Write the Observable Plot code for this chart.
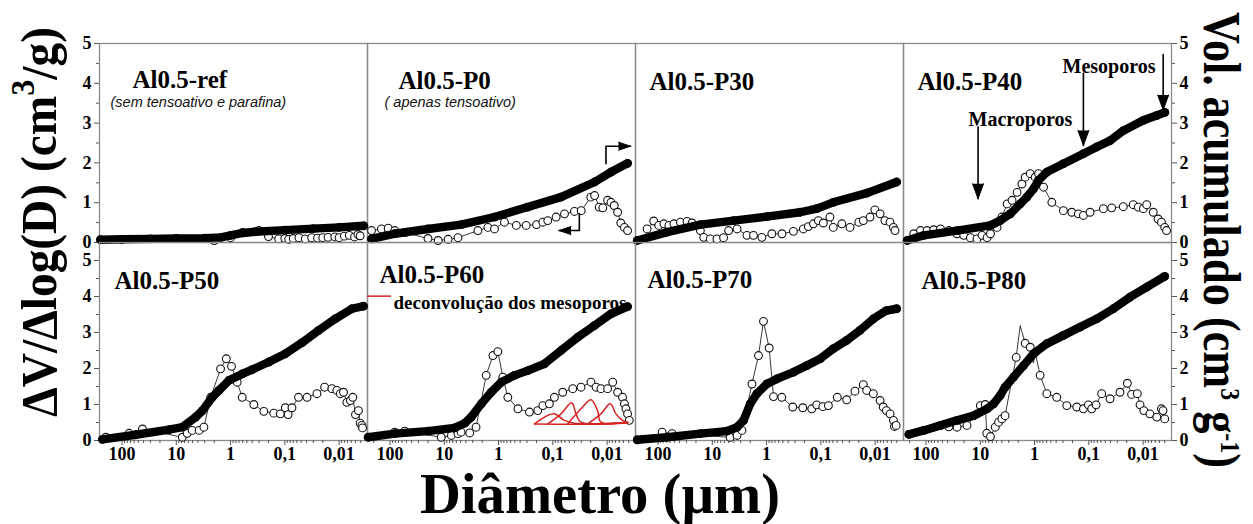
<!DOCTYPE html>
<html lang="pt">
<head>
<meta charset="utf-8">
<title>Distribuição de tamanho de poros</title>
<script src="https://cdn.jsdelivr.net/npm/d3@7"></script>
<script src="https://cdn.jsdelivr.net/npm/@observablehq/plot@0.6"></script>
<style>
  html, body { margin: 0; padding: 0; background: #fff; }
  #fig { position: relative; width: 1253px; height: 524px; overflow: hidden; background: #fff; }
  #fig > svg { position: absolute; left: 0; overflow: visible; }
</style>
</head>
<body>
<div id="fig"></div>
<script>
// ---- samples, labels and ticks ----
const samples = ["Al0.5-ref", "Al0.5-P0", "Al0.5-P30", "Al0.5-P40", "Al0.5-P50", "Al0.5-P60", "Al0.5-P70", "Al0.5-P80"];
const subtitleSamples = ["Al0.5-ref", "Al0.5-P0"];
const subtitleTexts = ["(sem tensoativo e parafina)", "( apenas tensoativo)"];
const diameterTicks = [100, 10, 1, 0.1, 0.01];
const diameterTickLabels = ["100", "10", "1", "0,1", "0,01"];
const volumeTicks = [0, 1, 2, 3, 4, 5];

// ---- ΔV/Δlog(D): [diâmetro (µm), valor, marcador (0 = só vértice da linha)] ----
const distRef = [[2, 0.05], [1, 0.12], [0.6, 0.25], [0.3, 0.3], [0.2, 0.15], [0.13, 0.09], [0.1, 0.1], [0.085, 0.08], [0.07, 0.1], [0.055, 0.12], [0.042, 0.09], [0.032, 0.12], [0.025, 0.11], [0.02, 0.12], [0.016, 0.13], [0.012, 0.14], [0.01, 0.12], [0.008, 0.16], [0.0065, 0.18], [0.0052, 0.14], [0.0045, 0.2], [0.0041, 0.17]];
const distP0 = [[219, 0.30], [144, 0.34], [108, 0.36], [82, 0.3], [53, 0.25], [20, 0.1], [13, 0.05], [8.5, 0.08], [5.6, 0.12], [2.4, 0.3], [1.57, 0.38], [1.19, 0.34], [0.78, 0.51], [0.47, 0.43], [0.31, 0.43], [0.2, 0.45], [0.153, 0.51], [0.124, 0.55], [0.087, 0.64], [0.061, 0.72], [0.04, 0.78], [0.03, 0.8], [0.02, 1.14], [0.017, 1.18], [0.014, 0.89], [0.012, 0.87], [0.0098, 1.06], [0.0085, 1.01], [0.0074, 0.93], [0.0064, 0.76], [0.0056, 0.49], [0.0048, 0.38], [0.0042, 0.3]];
const distP30 = [[159, 0.34], [120, 0.54], [97, 0.43], [78, 0.47], [63, 0.43], [51, 0.47], [38.7, 0.51], [29.2, 0.53], [23.6, 0.49], [16.6, 0.30], [14.4, 0.13], [10.9, 0.09], [8.2, 0.09], [6.2, 0.12], [5.0, 0.30], [3.5, 0.34], [2.3, 0.18], [1.74, 0.18], [1.22, 0.13], [0.80, 0.22], [0.52, 0.22], [0.32, 0.28], [0.21, 0.34], [0.17, 0.40], [0.137, 0.47], [0.111, 0.55], [0.09, 0.49], [0.068, 0.64], [0.059, 0.38], [0.041, 0.47], [0.029, 0.38], [0.020, 0.51], [0.0165, 0.55], [0.0124, 0.64], [0.0101, 0.82], [0.0081, 0.72], [0.0066, 0.55], [0.0053, 0.51], [0.0046, 0.38], [0.0043, 0.30]];
const distP40 = [[168, 0.22], [126, 0.30], [95.5, 0.30], [72, 0.32], [54, 0.34], [38, 0.30], [26.8, 0.22], [20.2, 0.18], [15.2, 0.12], [11.5, 0.09], [9.3, 0.18], [7.5, 0.12], [6.5, 0.22], [4.9, 0.38], [4.0, 0.64], [3.2, 0.97], [2.6, 1.06], [2.1, 1.26], [1.71, 1.47], [1.49, 1.64], [1.20, 1.73], [0.975, 1.64], [0.845, 1.73], [0.684, 1.39], [0.481, 1.01], [0.294, 0.80], [0.206, 0.76], [0.156, 0.72], [0.126, 0.68], [0.095, 0.76], [0.054, 0.85], [0.038, 0.87], [0.0232, 0.90], [0.0152, 0.95], [0.0123, 0.89], [0.0099, 0.85], [0.0086, 0.95], [0.0065, 0.76], [0.0053, 0.59], [0.0046, 0.51], [0.0040, 0.38], [0.0037, 0.30]];
const distP50 = [[199, 0.09], [74, 0.20], [42, 0.32], [7.74, 0.09], [6.3, 0.20], [5.1, 0.28], [3.8, 0.28], [3.1, 0.37], [2.33, 1.20], [1.53, 1.99], [1.20, 2.27], [0.96, 2.06], [0.755, 1.62], [0.61, 1.20], [0.373, 1.0], [0.244, 0.81], [0.16, 0.76], [0.121, 0.74], [0.098, 0.91], [0.087, 0.72], [0.074, 0.91], [0.056, 1.20], [0.039, 1.20], [0.0256, 1.30], [0.0185, 1.48], [0.0136, 1.44], [0.011, 1.39], [0.0095, 1.30], [0.0083, 1.34], [0.0072, 1.06], [0.0062, 1.11], [0.0056, 1.20], [0.005, 0.72], [0.0044, 0.83], [0.0041, 0.48], [0.0038, 0.42], [0.0037, 0.35]];
const distP60 = [[82, 0.23], [53.6, 0.26], [11.4, 0.09], [7.4, 0.14], [5.6, 0.19], [4.9, 0.23], [3.4, 0.21], [2.6, 0.37], [1.69, 1.81], [1.27, 2.36], [1.03, 2.47], [0.834, 1.76], [0.675, 1.20], [0.44, 0.88], [0.27, 0.79], [0.19, 0.83], [0.153, 0.97], [0.116, 1.02], [0.0935, 1.20], [0.0658, 1.34], [0.043, 1.44], [0.0303, 1.48], [0.0198, 1.62], [0.016, 1.48], [0.013, 1.44], [0.0098, 1.44], [0.0079, 1.62], [0.0064, 1.34], [0.0052, 1.20], [0.0048, 1.02], [0.0045, 0.88], [0.0042, 0.74], [0.0039, 0.56]];
const distP70 = [[84, 0.23], [55, 0.19], [4.7, 0.09], [3.5, 0.14], [2.84, 0.28], [1.86, 1.57], [1.41, 2.36], [1.14, 3.31], [0.895, 2.57], [0.745, 1.22], [0.524, 1.20], [0.329, 0.93], [0.215, 0.91], [0.147, 0.88], [0.119, 0.99], [0.092, 0.94], [0.0726, 0.97], [0.0497, 1.20], [0.0334, 1.13], [0.0235, 1.37], [0.0165, 1.55], [0.0143, 1.39], [0.0108, 1.30], [0.0081, 1.11], [0.0071, 0.93], [0.0062, 0.83], [0.0053, 0.74], [0.0046, 0.56], [0.0044, 0.39], [0.0041, 0.42]];
const distP80 = [[54, 0.42], [38, 0.38], [26.8, 0.37], [17.6, 0.42], [11.5, 0.74], [10, 0.97], [8.1, 1.0], [7.6, 0.2], [6.5, 0.11], [5.3, 0.37], [4.6, 0.51], [4.0, 0.6], [3.5, 0.69], [2.18, 2.31], [1.84, 3.19, 0], [1.49, 2.7], [1.2, 2.59], [1.05, 2.15, 0], [0.975, 2.45], [0.79, 1.81], [0.594, 1.3], [0.39, 1.2], [0.255, 0.97], [0.167, 0.93], [0.126, 0.88], [0.102, 0.99], [0.0885, 0.88], [0.0736, 0.99], [0.058, 1.3], [0.0407, 1.16], [0.0267, 1.34], [0.0195, 1.59], [0.0163, 1.28], [0.0128, 1.3], [0.0114, 0.99], [0.0097, 0.83], [0.0075, 0.74], [0.0056, 0.65], [0.0046, 0.88], [0.0043, 0.83], [0.004, 0.6]];

// ---- volume acumulado: [diâmetro (µm), cm³/g] ----
const cumRef = [[250, 0.07], [100, 0.08], [30, 0.09], [10, 0.1], [3, 0.11], [1.5, 0.13], [1.0, 0.18], [0.6, 0.24], [0.35, 0.27], [0.1, 0.31], [0.03, 0.35], [0.01, 0.38], [0.0035, 0.42]];
const cumP0 = [[219, 0.09], [82, 0.22], [20, 0.34], [4.9, 0.45], [1.19, 0.64], [0.29, 0.89], [0.071, 1.14], [0.017, 1.52], [0.0085, 1.77], [0.0042, 1.99]];
const cumP30 = [[242, 0.05], [68, 0.26], [16.6, 0.45], [4.05, 0.55], [0.99, 0.65], [0.24, 0.76], [0.119, 0.85], [0.059, 1.01], [0.0143, 1.24], [0.004, 1.52]];
const cumP40 = [[223, 0.05], [110, 0.18], [26.8, 0.30], [6.5, 0.43], [4.3, 0.55], [2.8, 0.72], [1.84, 0.97], [1.39, 1.14], [1.045, 1.35], [0.845, 1.56], [0.594, 1.77], [0.294, 1.98], [0.126, 2.23], [0.0716, 2.40], [0.0407, 2.56], [0.0232, 2.81], [0.0099, 3.07], [0.00565, 3.19], [0.00397, 3.27]];
const cumP50 = [[229, 0.03], [55.8, 0.16], [13.6, 0.30], [7.74, 0.37], [4.4, 0.65], [3.3, 0.83], [2.18, 1.20], [1.64, 1.39], [1.07, 1.67], [0.61, 1.85], [0.40, 1.97], [0.198, 2.18], [0.098, 2.41], [0.048, 2.72], [0.0238, 3.06], [0.0118, 3.38], [0.0058, 3.66], [0.00355, 3.73]];
const cumP60 = [[253, 0.09], [82, 0.19], [20, 0.26], [6.5, 0.35], [4.2, 0.48], [3.2, 0.65], [2.08, 1.02], [1.37, 1.34], [0.895, 1.62], [0.51, 1.81], [0.29, 1.94], [0.143, 2.13], [0.0706, 2.5], [0.0348, 2.87], [0.0172, 3.19], [0.0085, 3.52], [0.0042, 3.72]];
const cumP70 = [[242, 0.02], [68, 0.09], [16.6, 0.19], [5.4, 0.26], [3.5, 0.37], [2.65, 0.56], [2.0, 1.02], [1.51, 1.30], [0.99, 1.57], [0.647, 1.71], [0.319, 1.90], [0.182, 2.08], [0.103, 2.27], [0.0588, 2.55], [0.0334, 2.78], [0.019, 3.06], [0.0108, 3.38], [0.0062, 3.61], [0.004, 3.66]];
const cumP80 = [[207, 0.17], [110, 0.28], [54, 0.42], [26.8, 0.56], [13.2, 0.69], [7.5, 0.88], [5.7, 1.02], [4.3, 1.25], [3.5, 1.48], [2.44, 1.76], [1.6, 2.08], [1.045, 2.41], [0.594, 2.69], [0.294, 2.92], [0.145, 3.15], [0.0716, 3.38], [0.0354, 3.66], [0.0175, 3.98], [0.0086, 4.26], [0.004, 4.56]];

// ---- deconvolução dos mesoporos (Al0.5-P60) ----
const deconvP60 = [
  [[0.218, 0.46], [0.013, 0.46], [0.0042, 0.5]],
  [[0.218, 0.46], [0.0964, 0.74], [0.0614, 0.56], [0.0402, 0.48], [0.0042, 0.5]],
  [[0.124, 0.46], [0.0706, 0.74], [0.045, 1.05], [0.0374, 0.74], [0.0303, 0.51], [0.0042, 0.5]],
  [[0.0532, 0.46], [0.0303, 0.88], [0.0198, 1.13], [0.015, 0.83], [0.013, 0.51], [0.0042, 0.5]],
  [[0.0229, 0.46], [0.013, 0.74], [0.00875, 1.02], [0.0069, 0.74], [0.0052, 0.56], [0.0042, 0.5]]
];

// ---- layout ----
const serif = '"Liberation Serif", "Times New Roman", Times, serif';
const sans = '"Liberation Sans", Arial, Helvetica, sans-serif';
const titleOffsets = {"Al0.5-ref": [33, 27], "Al0.5-P0": [31, 28], "Al0.5-P30": [14, 29], "Al0.5-P40": [14, 29],
  "Al0.5-P50": [15, 29], "Al0.5-P60": [12, 23], "Al0.5-P70": [12, 28], "Al0.5-P80": [18, 29]};
const subtitleOffsets = {"Al0.5-ref": [11, 53], "Al0.5-P0": [17, 53]};

const series = [
  [samples[0], distRef, cumRef], [samples[1], distP0, cumP0], [samples[2], distP30, cumP30], [samples[3], distP40, cumP40],
  [samples[4], distP50, cumP50], [samples[5], distP60, cumP60], [samples[6], distP70, cumP70], [samples[7], distP80, cumP80]
];
const distRows = series.flatMap(([sample, dist]) => dist.map(([d, v, m = 1]) => ({sample, d, v, m})));
const cumRows = series.flatMap(([sample, , cum]) => cum.map(([d, v]) => ({sample, d, v})));
const deconvRows = deconvP60.flatMap((peak, k) => peak.map(([d, v]) => ({sample: "Al0.5-P60", k, d, v})));

// pointer arrows, in data space: polyline vertices and the heading of the tip
const arrows = [
  {sample: "Al0.5-P0", path: [[0.0105, 1.98], [0.0105, 2.42], [0.0037, 2.42]], heading: 90, big: false},
  {sample: "Al0.5-P0", path: [[0.0325, 0.72], [0.0325, 0.30], [0.077, 0.30]], heading: -90, big: false},
  {sample: "Al0.5-P40", path: [[11, 2.9], [11, 1.1]], heading: 180, big: true},
  {sample: "Al0.5-P40", path: [[0.126, 4.25], [0.126, 2.44]], heading: 180, big: true},
  {sample: "Al0.5-P40", path: [[0.00427, 4.72], [0.00427, 3.33]], heading: 180, big: true}
];
const arrowRows = arrows.flatMap((a, i) => a.path.map(([d, v]) => ({sample: a.sample, i, d, v})));
const arrowTips = arrows.map(a => ({sample: a.sample, d: a.path.at(-1)[0], v: a.path.at(-1)[1], heading: a.heading, big: a.big}));
const poreLabels = [
  {sample: "Al0.5-P40", label: "Mesoporos", dx: 159, dy: 15},
  {sample: "Al0.5-P40", label: "Macroporos", dx: 65, dy: 68}
];

const minorY = [0.5, 1.5, 2.5, 3.5, 4.5];
const minorX = [];
for (let e = -3; e <= 2; e++) for (let m = 2; m <= 9; m++) {
  const t = m * 10 ** e;
  if (t > 0.0031 && t < 260) minorX.push(t);
}

function row(names, yMax, {top, height, marginTop, marginBottom, xAxis}) {
  const inRow = r => names.includes(r.sample);
  const axisStroke = "#555";
  const marks = [
    Plot.frame({stroke: "#8a8a8a", strokeWidth: 1.3}),
    ...["left", "right"].flatMap(anchor => [
      Plot.axisY(minorY, {anchor, tickSize: 3, stroke: axisStroke, fill: "none", label: null}),
      Plot.axisY(volumeTicks, {anchor, tickSize: 5, stroke: axisStroke, fill: "none", label: null}),
      Plot.axisY(volumeTicks, {anchor, tickSize: 0, tickPadding: 8, fill: "#000", label: null,
        fontSize: 18, fontWeight: "bold", fontFamily: serif})
    ])
  ];
  if (xAxis) marks.push(
    Plot.axisX(minorX, {anchor: "bottom", tickSize: 3, stroke: axisStroke, fill: "none", label: null}),
    Plot.axisX(diameterTicks, {anchor: "bottom", tickSize: 5, stroke: axisStroke, fill: "none", label: null}),
    Plot.axisX(diameterTicks, {anchor: "bottom", tickSize: 0, tickPadding: 7, fill: "#000", label: null,
      tickFormat: d => diameterTickLabels[diameterTicks.indexOf(d)], fontSize: 18, fontWeight: "bold", fontFamily: serif})
  );
  marks.push(
    // ΔV/Δlog(D): thin line with open circles
    Plot.line(distRows.filter(inRow), {x: "d", y: "v", fx: "sample", stroke: "#222", strokeWidth: 0.9}),
    Plot.dot(distRows.filter(r => inRow(r) && r.m), {x: "d", y: "v", fx: "sample", r: 3.9, fill: "#fff", stroke: "#111", strokeWidth: 1.1}),
    // deconvolution peaks
    Plot.line(deconvRows.filter(inRow), {x: "d", y: "v", z: "k", fx: "sample", curve: "catmull-rom",
      stroke: "#d42424", strokeWidth: 1.5}),
    // cumulative volume: dense filled circles
    Plot.line(cumRows.filter(inRow), {x: "d", y: "v", fx: "sample", stroke: "#000", strokeWidth: 8.4, strokeLinecap: "round", strokeLinejoin: "round"}),
    Plot.dot(cumRows.filter(inRow), {x: "d", y: "v", fx: "sample", r: 4.4, fill: "#000"}),
    // arrows
    Plot.line(arrowRows.filter(inRow), {x: "d", y: "v", z: "i", fx: "sample", stroke: "#000", strokeWidth: 1.6}),
    Plot.vector(arrowTips.filter(r => inRow(r) && !r.big), {x: "d", y: "v", fx: "sample", rotate: "heading", anchor: "end",
      shape: "spike", length: 12, r: 4, fill: "#000", stroke: "#000", strokeWidth: 1}),
    Plot.vector(arrowTips.filter(r => inRow(r) && r.big), {x: "d", y: "v", fx: "sample", rotate: "heading", anchor: "end",
      shape: "spike", length: 15, r: 5.5, fill: "#000", stroke: "#000", strokeWidth: 1}),
    // panel titles
    ...names.map(s => Plot.text([s], {fx: d => d, text: d => d, frameAnchor: "top-left", textAnchor: "start",
      dx: titleOffsets[s][0], dy: titleOffsets[s][1], fontSize: 25, fontWeight: "bold", fontFamily: serif, fill: "#000"})),
    ...subtitleSamples.filter(s => names.includes(s)).map(s => Plot.text([s], {fx: d => d,
      text: d => subtitleTexts[subtitleSamples.indexOf(d)], frameAnchor: "top-left", textAnchor: "start",
      dx: subtitleOffsets[s][0], dy: subtitleOffsets[s][1], fontSize: 14.5, fontWeight: "normal", fontStyle: "italic",
      fontFamily: sans, fill: "#111"})),
    ...poreLabels.filter(inRow).map(p => Plot.text([p], {fx: "sample", text: "label", frameAnchor: "top-left",
      textAnchor: "start", dx: p.dx, dy: p.dy, fontSize: 20, fontWeight: "bold", fontFamily: serif, fill: "#000"}))
  );
  if (names.includes("Al0.5-P60")) marks.push(
    Plot.ruleY([{sample: "Al0.5-P60", v: 4.01}], {y: "v", x1: 260, x2: 94, fx: "sample", stroke: "#d42424", strokeWidth: 1.5}),
    Plot.text([{sample: "Al0.5-P60", label: "deconvolução dos mesoporos"}], {fx: "sample", text: "label",
      frameAnchor: "top-left", textAnchor: "start", dx: 26, dy: 53, fontSize: 19, fontWeight: "bold", fontFamily: serif, fill: "#000"})
  );
  const svg = Plot.plot({
    width: 1253, height, marginLeft: 97, marginRight: 81, marginTop, marginBottom,
    style: {background: "transparent", fontFamily: serif, fontSize: "18px", color: "#000", overflow: "visible"},
    fx: {domain: names, padding: 0, axis: null, label: null},
    x: {type: "log", domain: [260, 0.003], axis: null, label: null},
    y: {domain: [0, yMax], axis: null, label: null},
    marks
  });
  svg.style.top = top + "px";
  return svg;
}

const fig = document.getElementById("fig");
fig.append(row(samples.slice(0, 4), 5, {top: 0, height: 252, marginTop: 43, marginBottom: 10, xAxis: false}));
fig.append(row(samples.slice(4), 5.5, {top: 230, height: 240, marginTop: 12, marginBottom: 30, xAxis: true}));

// axis titles
const titles = d3.select(fig).append("svg")
  .attr("width", 1253).attr("height", 524)
  .style("top", "0px").style("pointer-events", "none")
  .attr("font-family", serif).attr("font-weight", "bold").attr("fill", "#000");

const yLeft = titles.append("text").attr("transform", "translate(56,222) rotate(-90)")
  .attr("text-anchor", "middle").attr("font-size", 50)
  .attr("textLength", 390).attr("lengthAdjust", "spacingAndGlyphs");
yLeft.append("tspan").text("ΔV/Δlog(D) (cm");
yLeft.append("tspan").attr("font-size", 34).attr("dy", -22).text("3");
yLeft.append("tspan").attr("dy", 22).text("/g)");

const yRight = titles.append("text").attr("transform", "translate(1204,240) rotate(90)")
  .attr("text-anchor", "middle").attr("font-size", 52)
  .attr("textLength", 456).attr("lengthAdjust", "spacingAndGlyphs");
yRight.append("tspan").text("Vol. acumulado (cm");
yRight.append("tspan").attr("font-size", 28).attr("dy", -17).text("3");
yRight.append("tspan").attr("dy", 17).text(" g");
yRight.append("tspan").attr("font-size", 28).attr("dy", -17).text("-1");
yRight.append("tspan").attr("dy", 17).text(")");

titles.append("text").attr("x", 600).attr("y", 513)
  .attr("text-anchor", "middle").attr("font-size", 57)
  .attr("textLength", 360).attr("lengthAdjust", "spacingAndGlyphs")
  .text("Diâmetro (µm)");
</script>
</body>
</html>
